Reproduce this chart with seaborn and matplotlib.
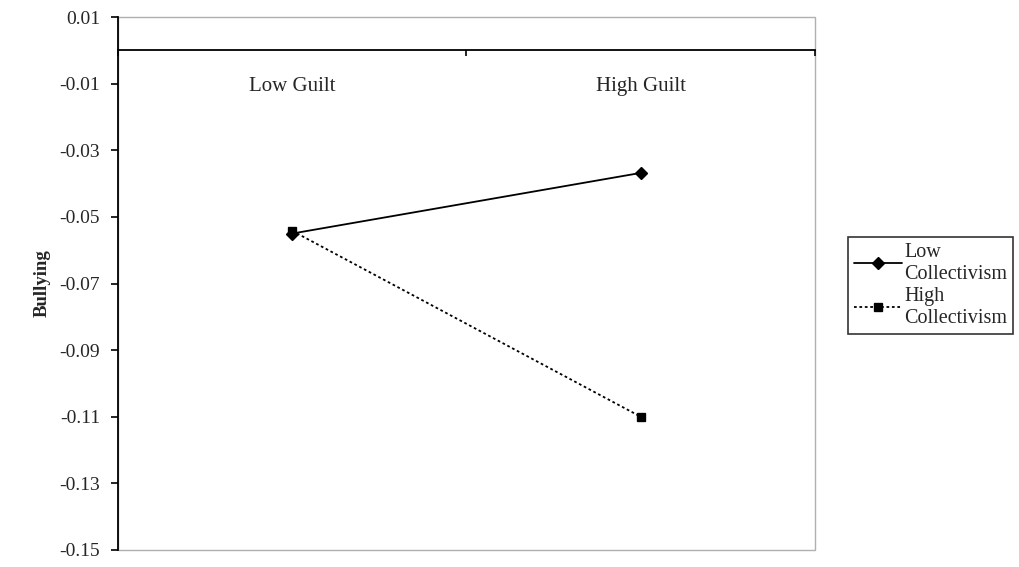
import matplotlib
matplotlib.use("Agg")
import matplotlib.pyplot as plt
import matplotlib.patches as mpatches
from matplotlib.ticker import FixedLocator, FormatStrFormatter
import numpy as np
import pandas as pd
import seaborn as sns

# ---- data ----
guilt_levels = ["Low Guilt", "High Guilt"]
series_names = ["Low\nCollectivism", "High\nCollectivism"]
low_collectivism = [-0.0550, -0.0368]
high_collectivism = [-0.0542, -0.1100]
y_ticks = [0.01, -0.01, -0.03, -0.05, -0.07, -0.09, -0.11, -0.13, -0.15]

df = pd.DataFrame({
    "Guilt": guilt_levels * 2,
    "Bullying": low_collectivism + high_collectivism,
    "Group": [series_names[0]] * 2 + [series_names[1]] * 2,
})

sns.set_style("white")
plt.rcParams["font.family"] = ["Liberation Serif", "DejaVu Serif"]
plt.rcParams["axes.unicode_minus"] = False

fig = plt.figure(figsize=(10.2, 5.67), dpi=100)
ax = fig.add_axes([0.1157, 0.030, 0.6833, 0.940])

sns.pointplot(data=df, x="Guilt", y="Bullying", hue="Group", order=guilt_levels,
              hue_order=series_names, palette=["black", "black"],
              markers=["D", "s"], linestyles=["-", (0, (1.5, 1.5))], markersize=6,
              linewidth=1.3, errorbar=None, ax=ax)

ax.set_xlim(-0.5, 1.5)
ax.set_ylim(-0.15, 0.01)

# frame
ax.add_patch(mpatches.Rectangle((0, 0), 1, 1, transform=ax.transAxes, fill=False,
                                edgecolor="#b0b0b0", linewidth=1.0, zorder=0, clip_on=False))
for s in ["top", "right"]:
    ax.spines[s].set_visible(False)
ax.spines["left"].set_color("black")
ax.spines["left"].set_linewidth(1.3)
ax.spines["bottom"].set_position(("data", 0))
ax.spines["bottom"].set_color("black")
ax.spines["bottom"].set_linewidth(1.3)

# y axis
ax.yaxis.set_major_locator(FixedLocator(y_ticks))
ax.yaxis.set_major_formatter(FormatStrFormatter("%.2f"))
ax.tick_params(axis="y", which="major", direction="out", length=5, width=1.2,
               left=True, labelsize=14, pad=8, color="black")
ax.set_ylabel("Bullying", fontsize=13.5, fontweight="bold", labelpad=6)

# x axis
ax.set_xticks([0, 1])
ax.set_xticklabels(guilt_levels)
ax.xaxis.set_minor_locator(FixedLocator([-0.5, 0.5, 1.5]))
ax.tick_params(axis="x", which="major", length=0, labelsize=15, pad=19)
ax.tick_params(axis="x", which="minor", length=4, width=1.2, direction="out",
               bottom=True, color="black")
ax.set_xlabel("")

# legend
handles, labels = ax.get_legend_handles_labels()
if ax.legend_:
    ax.legend_.remove()
leg = fig.legend(handles, labels, loc="upper left", bbox_to_anchor=(0.831, 0.582),
                 frameon=True, fancybox=False, edgecolor="black", fontsize=14.5,
                 handlelength=2.4, handletextpad=0.1, borderpad=0.3,
                 labelspacing=0.15, borderaxespad=0)
leg.get_frame().set_linewidth(1.2)

fig.savefig("out.png", dpi=100, facecolor="white")
